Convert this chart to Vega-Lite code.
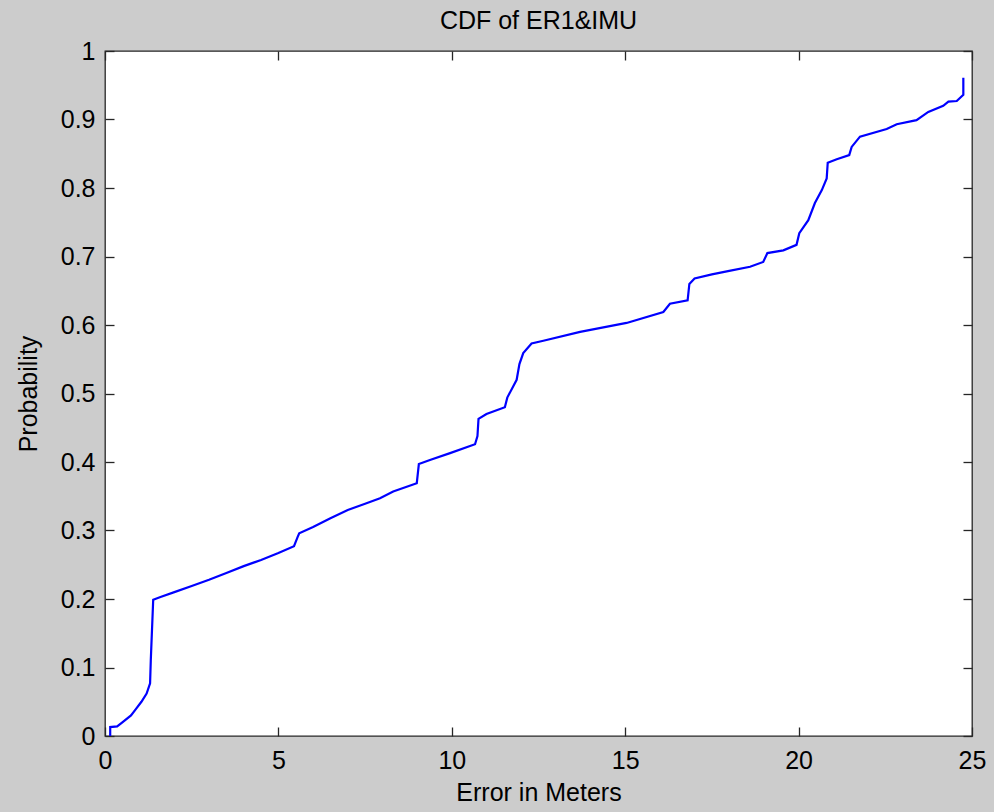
{
  "$schema": "https://vega.github.io/schema/vega-lite/v6.json",
  "width": 867,
  "height": 685,
  "autosize": {"type": "none"},
  "padding": {"left": 105, "top": 51, "right": 22, "bottom": 76},
  "background": "#cccccc",
  "title": {"text": "CDF of ER1&IMU", "fontSize": 25, "font": "Liberation Sans", "fontWeight": "normal", "color": "#000000", "anchor": "middle", "frame": "group", "offset": 5},
  "config": {
    "view": {"fill": "white", "stroke": "#262626", "strokeWidth": 1.3},
    "axis": {
      "labelFont": "Liberation Sans", "labelFontSize": 25, "labelColor": "#000000", "labelFlush": false,
      "titleFont": "Liberation Sans", "titleFontSize": 25, "titleFontWeight": "normal", "titleColor": "#000000",
      "tickColor": "#262626", "tickWidth": 1.3, "tickSize": -9,
      "domain": false, "grid": false
    }
  },
  "data": {"values": [
    {"error": 0.15, "p": 0},
    {"error": 0.15, "p": 0.013},
    {"error": 0.35, "p": 0.014},
    {"error": 0.5, "p": 0.02},
    {"error": 0.75, "p": 0.03},
    {"error": 0.9, "p": 0.04},
    {"error": 1.05, "p": 0.05},
    {"error": 1.2, "p": 0.062},
    {"error": 1.3, "p": 0.077},
    {"error": 1.32, "p": 0.11},
    {"error": 1.39, "p": 0.199},
    {"error": 1.6, "p": 0.203},
    {"error": 2.0, "p": 0.21},
    {"error": 2.5, "p": 0.219},
    {"error": 3.0, "p": 0.228},
    {"error": 3.5, "p": 0.238},
    {"error": 4.0, "p": 0.248},
    {"error": 4.5, "p": 0.257},
    {"error": 5.0, "p": 0.267},
    {"error": 5.45, "p": 0.277},
    {"error": 5.55, "p": 0.29},
    {"error": 5.6, "p": 0.296},
    {"error": 6.0, "p": 0.305},
    {"error": 6.5, "p": 0.318},
    {"error": 7.0, "p": 0.33},
    {"error": 7.5, "p": 0.339},
    {"error": 7.93, "p": 0.347},
    {"error": 8.31, "p": 0.357},
    {"error": 8.99, "p": 0.369},
    {"error": 9.05, "p": 0.397},
    {"error": 9.37, "p": 0.403},
    {"error": 9.95, "p": 0.413},
    {"error": 10.67, "p": 0.426},
    {"error": 10.74, "p": 0.438},
    {"error": 10.77, "p": 0.463},
    {"error": 11.0, "p": 0.47},
    {"error": 11.53, "p": 0.48},
    {"error": 11.6, "p": 0.494},
    {"error": 11.87, "p": 0.52},
    {"error": 11.95, "p": 0.543},
    {"error": 12.06, "p": 0.559},
    {"error": 12.3, "p": 0.573},
    {"error": 12.64, "p": 0.577},
    {"error": 13.7, "p": 0.59},
    {"error": 15.04, "p": 0.603},
    {"error": 16.1, "p": 0.619},
    {"error": 16.29, "p": 0.631},
    {"error": 16.8, "p": 0.636},
    {"error": 16.85, "p": 0.66},
    {"error": 17.0, "p": 0.668},
    {"error": 17.5, "p": 0.674},
    {"error": 18.0, "p": 0.679},
    {"error": 18.6, "p": 0.685},
    {"error": 18.98, "p": 0.692},
    {"error": 19.1, "p": 0.705},
    {"error": 19.56, "p": 0.709},
    {"error": 19.94, "p": 0.717},
    {"error": 20.02, "p": 0.734},
    {"error": 20.28, "p": 0.753},
    {"error": 20.47, "p": 0.778},
    {"error": 20.67, "p": 0.797},
    {"error": 20.81, "p": 0.814},
    {"error": 20.84, "p": 0.837},
    {"error": 21.1, "p": 0.842},
    {"error": 21.46, "p": 0.848},
    {"error": 21.53, "p": 0.86},
    {"error": 21.77, "p": 0.875},
    {"error": 22.54, "p": 0.886},
    {"error": 22.83, "p": 0.893},
    {"error": 23.4, "p": 0.899},
    {"error": 23.74, "p": 0.911},
    {"error": 24.17, "p": 0.92},
    {"error": 24.32, "p": 0.926},
    {"error": 24.56, "p": 0.927},
    {"error": 24.75, "p": 0.936},
    {"error": 24.75, "p": 0.961}
  ]},
  "layer": [
    {
      "mark": {"type": "line", "color": "#0000ff", "strokeWidth": 2.2, "interpolate": "linear"},
      "encoding": {
        "x": {"field": "error", "type": "quantitative", "scale": {"domain": [0, 25], "nice": false, "zero": false},
              "axis": {"orient": "bottom", "title": "Error in Meters", "values": [0, 5, 10, 15, 20, 25], "labelPadding": 21, "titlePadding": 7}},
        "y": {"field": "p", "type": "quantitative", "scale": {"domain": [0, 1], "nice": false},
              "axis": {"orient": "left", "title": "Probability", "values": [0, 0.1, 0.2, 0.3, 0.4, 0.5, 0.6, 0.7, 0.8, 0.9, 1], "format": "~g", "labelPadding": 19, "titlePadding": 19}},
        "order": {"field": "p", "type": "quantitative"}
      }
    },
    {
      "mark": {"type": "line", "opacity": 0},
      "encoding": {
        "x": {"field": "error", "type": "quantitative", "axis": {"orient": "top", "title": null, "labels": false, "values": [0, 5, 10, 15, 20, 25]}},
        "y": {"field": "p", "type": "quantitative", "axis": {"orient": "right", "title": null, "labels": false, "values": [0, 0.1, 0.2, 0.3, 0.4, 0.5, 0.6, 0.7, 0.8, 0.9, 1]}},
        "order": {"field": "p", "type": "quantitative"}
      }
    }
  ],
  "resolve": {"axis": {"x": "independent", "y": "independent"}}
}
